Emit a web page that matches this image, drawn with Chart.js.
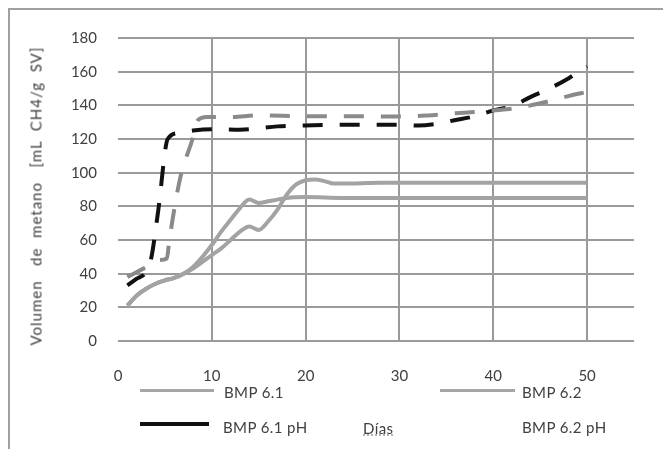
<!doctype html>
<html lang="es">
<head>
<meta charset="utf-8">
<script src="https://cdn.jsdelivr.net/npm/chart.js@4.4.3/dist/chart.umd.min.js"></script>
<style>
  html, body { margin: 0; padding: 0; background: #fff; }
  body { width: 663px; height: 449px; overflow: hidden; position: relative;
         font-family: Lato, "Open Sans", sans-serif; color: #404040; }
  #frame { position: absolute; left: 8px; top: 8px; width: 700px; height: 500px;
           border-left: 2px solid #a0a0a0; border-top: 2px solid #a0a0a0; }
  #wrap { position: absolute; left: 0; top: 0; width: 663px; height: 449px; }
  .lbl { position: absolute; font-size: 15px; line-height: 1; white-space: pre; letter-spacing: 0.4px; }
  .key { position: absolute; }
  #ytitle { position: absolute; left: 36px; top: 196px; font-size: 15px; line-height: 1;
            white-space: pre; letter-spacing: 1px;
            transform: translate(-50%, -50%) rotate(-90deg); }
  #xtitle { text-decoration: underline dotted #999; }
</style>
</head>
<body>
<div id="frame"></div>
<div id="wrap"><canvas id="chart" width="663" height="449"></canvas></div>
<div id="ytitle">Volumen   de  metano   [mL  CH4/g  SV]</div>

<div class="key" style="left:140px; top:389px; width:74px; height:3px; background:#a6a6a6;"></div>
<div class="lbl" style="left:224px; top:385px;">BMP 6.1</div>
<div class="key" style="left:440px; top:389px; width:75px; height:3px; background:#a6a6a6;"></div>
<div class="lbl" style="left:522px; top:385px;">BMP 6.2</div>
<div class="key" style="left:140px; top:422px; width:69px; height:4px; background:#111;"></div>
<div class="lbl" style="left:223px; top:420px;">BMP 6.1 pH</div>
<div class="lbl" id="xtitle" style="left:363px; top:421px;">Días</div>
<div class="lbl" style="left:522px; top:420px;">BMP 6.2 pH</div>

<script>
// días de medición y volumen acumulado (mL CH4/g SV)
const days61 = [1, 2, 3, 4, 5, 6, 7, 8, 9, 10, 11, 12, 13, 14, 15, 16, 17, 18, 20, 24, 28, 50];
const bmp61 = [21, 27, 31, 34, 36, 37.5, 40, 44, 50, 57, 65, 72, 79, 84, 82, 83, 84, 85, 85.5, 85, 85, 85];

const days62 = [1, 2, 3, 4, 5, 6, 7, 8, 9, 10, 11, 12, 13, 14, 15, 16, 17, 18, 19, 20, 21, 22, 23, 24, 28, 50];
const bmp62 = [21, 27, 31, 34, 36, 37.5, 40, 43, 47, 51, 55, 60, 65, 68, 66, 71, 78, 87, 93, 95.5, 96, 95, 93.5, 93.5, 94, 94];

const days61pH = [1, 2, 3, 3.5, 4.3, 5.3, 6.5, 8, 10, 13, 17, 20, 25, 30, 32, 34, 36, 38, 40, 42, 44, 46, 48, 50];
const bmp61pH = [33, 37, 41, 48, 78, 120, 123.5, 125, 125.8, 125.5, 127.5, 128, 128.5, 128.5, 128, 129, 131.3, 133.5, 137, 139.5, 145, 150, 156, 163];

const days62pH = [1, 2.7, 3.4, 4.3, 5.2, 5.5, 6.6, 8, 8.5, 9.5, 12, 15, 20, 25, 30, 33, 36, 38, 40, 42, 44, 46, 48, 50];
const bmp62pH = [38, 43, 45, 48, 49, 61, 96, 121, 131, 133, 133, 134, 133.5, 133.5, 133.3, 134, 135.3, 136, 137, 138, 140, 142.5, 145.5, 148];

const xTicks = [0, 10, 20, 30, 40, 50];
const yTicks = [0, 20, 40, 60, 80, 100, 120, 140, 160, 180];

function toPoints(xs, ys) {
  return xs.map((x, i) => ({ x, y: ys[i] }));
}

const tickFont = { family: "Lato, 'Open Sans', sans-serif", size: 15 };

new Chart(document.getElementById("chart"), {
  type: "line",
  data: {
    datasets: [
      { label: "BMP 6.1", data: toPoints(days61, bmp61), borderColor: "#a3a3a3", borderWidth: 4 },
      { label: "BMP 6.2", data: toPoints(days62, bmp62), borderColor: "#a3a3a3", borderWidth: 4 },
      { label: "BMP 6.2 pH", data: toPoints(days62pH, bmp62pH), borderColor: "#8a8a8a", borderWidth: 4, borderDash: [20, 17] },
      { label: "BMP 6.1 pH", data: toPoints(days61pH, bmp61pH), borderColor: "#111111", borderWidth: 4, borderDash: [20, 17] },
    ],
  },
  options: {
    responsive: false,
    animation: false,
    layout: { padding: { top: 38, right: 29, left: 0, bottom: 0 } },
    elements: {
      point: { radius: 0 },
      line: { cubicInterpolationMode: "monotone", fill: false },
    },
    plugins: { legend: { display: false }, tooltip: { enabled: false } },
    scales: {
      x: {
        type: "linear",
        min: 0,
        max: 55,
        afterBuildTicks: (scale) => {
          scale.ticks = xTicks.map((v) => ({ value: v }));
        },
        afterFit: (scale) => { scale.height = 108; },
        ticks: { color: "#404040", font: tickFont, padding: 26, maxRotation: 0 },
        grid: {
          color: (ctx) => (ctx.tick && ctx.tick.value === 0 ? "rgba(0,0,0,0)" : "#9a9a9a"),
          lineWidth: 2,
          drawTicks: false,
        },
        border: { display: false },
      },
      y: {
        min: 0,
        max: 180,
        afterBuildTicks: (scale) => {
          scale.ticks = yTicks.map((v) => ({ value: v }));
        },
        afterFit: (scale) => { scale.width = 118; },
        ticks: { color: "#404040", font: tickFont, padding: 21 },
        grid: { color: "#9a9a9a", lineWidth: 2, drawTicks: false },
        border: { display: false },
      },
    },
  },
});
</script>
</body>
</html>
